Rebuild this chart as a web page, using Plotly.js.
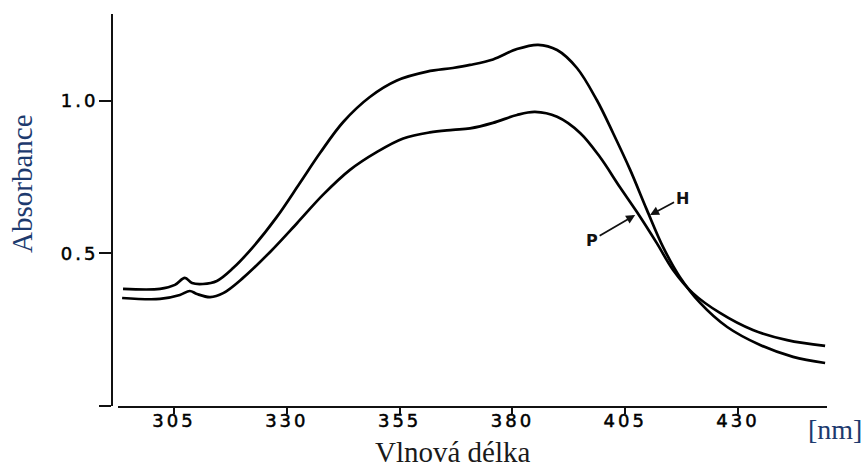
<!DOCTYPE html>
<html>
<head>
<meta charset="utf-8">
<script src="https://cdn.plot.ly/plotly-3.0.1.min.js"></script>
<style>
  html, body { margin: 0; padding: 0; background: #fff; }
  #chart { width: 866px; height: 469px; }
  .xtick text, .ytick text { letter-spacing: 3px; stroke: #000; stroke-width: 0.5px; }
</style>
</head>
<body>
<div id="chart"></div>
<script>
// Wavelength (nm) and absorbance
const wavelengthH = [293.7, 301.9, 305.2, 307.4, 309.0, 311.4, 314.5, 318.1, 322.5, 327.8, 332.9, 337.4, 342.5, 348.4, 354.4, 361.1, 366.8, 370.6, 375.7, 381.0, 385.7, 389.9, 394.3, 398.7, 402.3, 406.1, 409.8, 413.4, 417.1, 421.6, 427.6, 434.9, 442.2, 449.3];
const absorbanceH = [0.384, 0.384, 0.397, 0.420, 0.403, 0.400, 0.410, 0.452, 0.521, 0.620, 0.731, 0.830, 0.931, 1.013, 1.067, 1.096, 1.108, 1.118, 1.136, 1.170, 1.184, 1.167, 1.108, 1.003, 0.895, 0.774, 0.643, 0.521, 0.423, 0.338, 0.259, 0.200, 0.161, 0.141];

const wavelengthP = [293.5, 301.9, 306.3, 308.5, 310.1, 313.0, 315.9, 320.3, 326.3, 332.3, 338.0, 344.0, 350.0, 355.8, 361.7, 366.8, 370.6, 375.7, 381.0, 385.0, 389.9, 395.0, 399.4, 403.8, 407.6, 412.0, 415.6, 420.0, 426.0, 433.3, 440.9, 449.3];
const absorbanceP = [0.354, 0.351, 0.364, 0.377, 0.367, 0.357, 0.370, 0.420, 0.505, 0.600, 0.692, 0.774, 0.833, 0.877, 0.897, 0.905, 0.910, 0.928, 0.954, 0.964, 0.948, 0.895, 0.816, 0.718, 0.636, 0.534, 0.446, 0.370, 0.305, 0.249, 0.216, 0.197];

const xTickVals = [305, 330, 355, 380, 405, 430];
const xTickText = ['305', '330', '355', '380', '405', '430'];
const yTickVals = [0, 0.5, 1.0];
const yTickText = ['', '0.5', '1.0'];

const seriesNames = ['H', 'P'];
// label arrow targets (wavelength, absorbance)
const labelPointH = [410.5, 0.626];
const labelPointP = [407.2, 0.626];

const lineStyle = { color: '#000', width: 2.7, shape: 'spline', smoothing: 1.0 };

const traces = [
  { x: wavelengthH, y: absorbanceH, name: seriesNames[0], mode: 'lines', line: lineStyle, hoverinfo: 'x+y' },
  { x: wavelengthP, y: absorbanceP, name: seriesNames[1], mode: 'lines', line: lineStyle, hoverinfo: 'x+y' }
];

const tickFont = { family: 'DejaVu Sans', size: 18, color: '#000' };

const layout = {
  width: 866,
  height: 469,
  margin: { l: 112, r: 39, t: 14, b: 63, pad: 0 },
  paper_bgcolor: '#fff',
  plot_bgcolor: '#fff',
  showlegend: false,
  xaxis: {
    domain: [0.0084, 1],
    range: [292.59, 449.72],
    tickmode: 'array',
    tickvals: xTickVals,
    ticktext: xTickText,
    ticks: 'outside',
    ticklen: 6,
    tickwidth: 2,
    tickcolor: '#111',
    ticklabelstandoff: -9,
    showline: true,
    linecolor: '#111',
    linewidth: 2,
    showgrid: false,
    zeroline: false,
    tickfont: tickFont
  },
  yaxis: {
    anchor: 'free',
    position: 0,
    range: [0, 1.285],
    tickmode: 'array',
    tickvals: yTickVals,
    ticktext: yTickText,
    ticks: 'outside',
    ticklen: 12,
    tickwidth: 2,
    tickcolor: '#111',
    ticklabelstandoff: -3,
    showline: true,
    linecolor: '#111',
    linewidth: 2,
    showgrid: false,
    zeroline: false,
    tickfont: tickFont
  },
  annotations: [
    {
      xref: 'paper', yref: 'paper', x: -0.1259, y: 0.569,
      text: 'Absorbance', textangle: -90, showarrow: false,
      xanchor: 'center', yanchor: 'middle',
      font: { family: 'Liberation Serif', size: 29, color: '#1d3a6e' }
    },
    {
      xref: 'paper', yref: 'paper', x: (453 - 112) / 715, y: (406 - 452) / 392,
      text: 'Vlnová délka', showarrow: false,
      xanchor: 'center', yanchor: 'middle',
      font: { family: 'Liberation Serif', size: 29, color: '#1a1a1a' }
    },
    {
      xref: 'paper', yref: 'paper', x: (835 - 112) / 715, y: (406 - 429) / 392,
      text: '[nm]', showarrow: false,
      xanchor: 'center', yanchor: 'middle',
      font: { family: 'Liberation Serif', size: 28, color: '#1d3a6e' }
    },
    {
      xref: 'x', yref: 'y', x: labelPointH[0], y: labelPointH[1],
      text: seriesNames[0], showarrow: true, ax: 32, ay: -17,
      arrowhead: 2, arrowsize: 1, arrowwidth: 1.8, arrowcolor: '#111', standoff: 0,
      font: { family: 'DejaVu Sans', size: 16, color: '#111', weight: 'bold' }
    },
    {
      xref: 'x', yref: 'y', x: labelPointP[0], y: labelPointP[1],
      text: seriesNames[1], showarrow: true, ax: -43, ay: 25,
      arrowhead: 2, arrowsize: 1, arrowwidth: 1.8, arrowcolor: '#111', standoff: 0,
      font: { family: 'DejaVu Sans', size: 16, color: '#111', weight: 'bold' }
    }
  ]
};

Plotly.newPlot('chart', traces, layout, { staticPlot: true, displayModeBar: false });
</script>
</body>
</html>
